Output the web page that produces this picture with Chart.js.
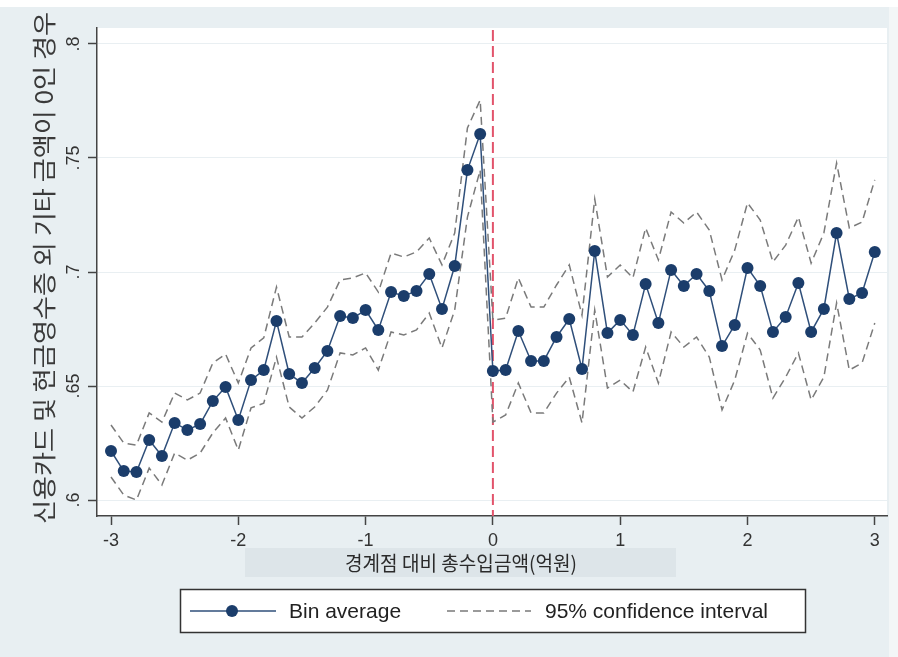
<!DOCTYPE html>
<html>
<head>
<meta charset="utf-8">
<title>RD bin plot</title>
<script src="https://cdn.jsdelivr.net/npm/chart.js@4.4.0/dist/chart.umd.min.js"></script>
<style>
    html, body { margin: 0; padding: 0; background: #e8eff2; }
    #wrap { width: 898px; height: 657px; position: relative; }
</style>
</head>
<body>
<div id="wrap"><canvas id="rdChart" width="898" height="657"></canvas></div>
<script>
// ==========================================
// DATA
// ==========================================
var binX = [
    -3.0, -2.9, -2.8, -2.7, -2.6, -2.5, -2.4, -2.3, -2.2, -2.1,
    -2.0, -1.9, -1.8, -1.7, -1.6, -1.5, -1.4, -1.3, -1.2, -1.1,
    -1.0, -0.9, -0.8, -0.7, -0.6, -0.5, -0.4, -0.3, -0.2, -0.1,
    0.0, 0.1, 0.2, 0.3, 0.4, 0.5, 0.6, 0.7, 0.8, 0.9,
    1.0, 1.1, 1.2, 1.3, 1.4, 1.5, 1.6, 1.7, 1.8, 1.9,
    2.0, 2.1, 2.2, 2.3, 2.4, 2.5, 2.6, 2.7, 2.8, 2.9, 3.0
];

var binAvg = [
    0.6215, 0.6127, 0.6123, 0.6263, 0.6193, 0.6338, 0.6307, 0.6333, 0.6434, 0.6496,
    0.6351, 0.6526, 0.6570, 0.6785, 0.6553, 0.6513, 0.6579, 0.6654, 0.6807, 0.6798,
    0.6833, 0.6746, 0.6912, 0.6895, 0.6917, 0.6991, 0.6838, 0.7026, 0.7447, 0.7605,
    0.6566, 0.6570, 0.6741, 0.6610, 0.6610, 0.6715, 0.6794, 0.6575, 0.7092, 0.6732,
    0.6790, 0.6724, 0.6947, 0.6776, 0.7009, 0.6939, 0.6991, 0.6917, 0.6675, 0.6768,
    0.7018, 0.6939, 0.6737, 0.6803, 0.6952, 0.6737, 0.6838, 0.7171, 0.6882, 0.6908, 0.7088
];

var ciUpper = [
    0.6329, 0.6250, 0.6241, 0.6382, 0.6342, 0.6469, 0.6439, 0.6469, 0.6601, 0.6640,
    0.6513, 0.6667, 0.6711, 0.6934, 0.6715, 0.6715, 0.6776, 0.6846, 0.6965, 0.6974,
    0.6996, 0.6912, 0.7083, 0.7066, 0.7088, 0.7149, 0.7031, 0.7171, 0.7632, 0.7754,
    0.6789, 0.6798, 0.6974, 0.6846, 0.6846, 0.6943, 0.7031, 0.6811, 0.7320, 0.6978,
    0.7031, 0.6974, 0.7193, 0.7053, 0.7263, 0.7215, 0.7263, 0.7184, 0.6965, 0.7096,
    0.7303, 0.7228, 0.7044, 0.7118, 0.7241, 0.7039, 0.7171, 0.7478, 0.7193, 0.7219, 0.7404
];

var ciLower = [
    0.6101, 0.6022, 0.6000, 0.6140, 0.6066, 0.6206, 0.6175, 0.6206, 0.6294, 0.6360,
    0.6219, 0.6404, 0.6425, 0.6627, 0.6408, 0.6360, 0.6408, 0.6482, 0.6645, 0.6636,
    0.6667, 0.6570, 0.6737, 0.6724, 0.6746, 0.6820, 0.6667, 0.6833, 0.7241, 0.7447,
    0.6342, 0.6373, 0.6513, 0.6382, 0.6382, 0.6469, 0.6539, 0.6338, 0.6833, 0.6491,
    0.6526, 0.6474, 0.6671, 0.6513, 0.6737, 0.6671, 0.6715, 0.6627, 0.6395, 0.6526,
    0.6732, 0.6658, 0.6447, 0.6539, 0.6645, 0.6439, 0.6539, 0.6864, 0.6570, 0.6601, 0.6776
];

var xTicks = [-3, -2, -1, 0, 1, 2, 3];
var xTickLabels = ['-3', '-2', '-1', '0', '1', '2', '3'];
var yTicks = [0.6, 0.65, 0.7, 0.75, 0.8];
var yTickLabels = ['.6', '.65', '.7', '.75', '.8'];
var cutoff = 0;

var xTitle = '경계점 대비 총수입금액(억원)';
var yTitle = '신용카드 및 현금영수증 외 기타 금액이 0인 경우';
var legendLabels = ['Bin average', '95% confidence interval'];

// ==========================================
// HELPERS
// ==========================================
function toPoints(xs, ys) {
    return xs.map(function(x, i) { return { x: x, y: ys[i] }; });
}

var LATIN = "'Liberation Sans', Arial, sans-serif";
var KOREAN = "'Noto Sans CJK KR', 'Noto Sans', sans-serif";
var NAVY = '#1b3d6b';
var NAVY_LINE = '#2f4f7a';
var CI_GRAY = '#7a7a7a';

// ==========================================
// STATA-LIKE FRAME (background, titles, legend, cutoff)
// ==========================================
var stataFrame = {
    id: 'stataFrame',
    beforeDraw: function(chart) {
        var ctx = chart.ctx;
        var a = chart.chartArea;
        ctx.save();
        ctx.fillStyle = '#e8eff2';
        ctx.fillRect(0, 0, chart.width, chart.height);
        ctx.fillStyle = '#ffffff';
        ctx.fillRect(0, 0, chart.width, 7);
        ctx.fillStyle = '#f3f6f7';
        ctx.fillRect(889, 7, chart.width - 889, chart.height - 7);
        // plot region
        ctx.fillStyle = '#ffffff';
        ctx.fillRect(a.left, a.top, a.right - a.left, a.bottom - a.top);
        // box behind x title
        ctx.fillStyle = '#dde5e9';
        ctx.fillRect(245, 548, 431, 29);
        ctx.restore();
    },
    beforeDatasetsDraw: function(chart) {
        var ctx = chart.ctx;
        var a = chart.chartArea;
        var px = chart.scales.x.getPixelForValue(cutoff);
        ctx.save();
        ctx.strokeStyle = '#e2536b';
        ctx.lineWidth = 2;
        ctx.setLineDash([11, 5]);
        ctx.beginPath();
        ctx.moveTo(px, a.top + 2);
        ctx.lineTo(px, a.bottom);
        ctx.stroke();
        ctx.restore();
    },
    afterDraw: function(chart) {
        var ctx = chart.ctx;
        var a = chart.chartArea;
        var ys = chart.scales.y;

        ctx.save();
        // y tick labels, rotated like Stata
        ctx.fillStyle = '#333333';
        ctx.font = '18px ' + LATIN;
        ctx.textAlign = 'center';
        ctx.textBaseline = 'middle';
        yTicks.forEach(function(v, i) {
            ctx.save();
            ctx.translate(74, ys.getPixelForValue(v));
            ctx.rotate(-Math.PI / 2);
            ctx.fillText(yTickLabels[i], 0, 0);
            ctx.restore();
        });

        // y title
        ctx.save();
        ctx.font = '24px ' + KOREAN;
        ctx.fillStyle = '#3a3a3a';
        ctx.translate(44, 268);
        ctx.rotate(-Math.PI / 2);
        var wy = ctx.measureText(yTitle).width;
        ctx.scale(512 / wy, 1);
        ctx.fillText(yTitle, 0, 0);
        ctx.restore();

        // x title
        ctx.save();
        ctx.font = '20px ' + KOREAN;
        ctx.fillStyle = '#2a2a2a';
        ctx.translate(461, 563);
        var wx = ctx.measureText(xTitle).width;
        ctx.scale(232 / wx, 1);
        ctx.fillText(xTitle, 0, 0);
        ctx.restore();

        // legend box
        ctx.fillStyle = '#ffffff';
        ctx.fillRect(180, 589, 625, 43);
        ctx.strokeStyle = '#333333';
        ctx.lineWidth = 1.5;
        ctx.strokeRect(180.5, 589.5, 625, 43);

        var ly = 611;
        var dsAvg = chart.data.datasets[0];
        var dsCi = chart.data.datasets[1];

        ctx.strokeStyle = dsAvg.borderColor;
        ctx.lineWidth = dsAvg.borderWidth;
        ctx.beginPath();
        ctx.moveTo(190, ly);
        ctx.lineTo(276, ly);
        ctx.stroke();
        ctx.fillStyle = dsAvg.pointBackgroundColor;
        ctx.beginPath();
        ctx.arc(232, ly, dsAvg.pointRadius, 0, Math.PI * 2);
        ctx.fill();

        ctx.strokeStyle = dsCi.borderColor;
        ctx.lineWidth = dsCi.borderWidth;
        ctx.setLineDash(dsCi.borderDash);
        ctx.beginPath();
        ctx.moveTo(447, ly);
        ctx.lineTo(531, ly);
        ctx.stroke();
        ctx.setLineDash([]);

        ctx.fillStyle = '#222222';
        ctx.font = '21px ' + LATIN;
        ctx.textAlign = 'left';
        ctx.textBaseline = 'middle';
        ctx.fillText(legendLabels[0], 289, ly + 1);
        ctx.fillText(legendLabels[1], 545, ly + 1);
        ctx.restore();
    }
};

// ==========================================
// CHART
// ==========================================
var ctx = document.getElementById('rdChart').getContext('2d');

new Chart(ctx, {
    type: 'line',
    data: {
        datasets: [{
            label: legendLabels[0],
            data: toPoints(binX, binAvg),
            borderColor: NAVY_LINE,
            borderWidth: 1.5,
            pointRadius: 6,
            pointBackgroundColor: NAVY,
            pointBorderColor: NAVY,
            pointBorderWidth: 0,
            tension: 0
        }, {
            label: legendLabels[1],
            data: toPoints(binX, ciUpper),
            borderColor: CI_GRAY,
            borderWidth: 1.5,
            borderDash: [8, 5],
            pointRadius: 0,
            tension: 0
        }, {
            label: legendLabels[1] + ' (lower)',
            data: toPoints(binX, ciLower),
            borderColor: CI_GRAY,
            borderWidth: 1.5,
            borderDash: [8, 5],
            pointRadius: 0,
            tension: 0
        }]
    },
    options: {
        responsive: false,
        animation: false,
        devicePixelRatio: 1,
        layout: { padding: { left: 85, right: 11, top: 28, bottom: 111 } },
        plugins: {
            legend: { display: false },
            tooltip: { enabled: false }
        },
        scales: {
            x: {
                type: 'linear',
                min: -3.11,
                max: 3.096,
                afterBuildTicks: function(scale) {
                    scale.ticks = xTicks.map(function(v) { return { value: v }; });
                },
                afterFit: function(scale) { scale.height = 30; },
                ticks: {
                    autoSkip: false,
                    maxRotation: 0,
                    padding: 5,
                    color: '#333333',
                    font: { family: LATIN, size: 18 },
                    callback: function(v) { return xTickLabels[xTicks.indexOf(v)]; }
                },
                grid: {
                    drawOnChartArea: false,
                    tickLength: 9,
                    tickColor: '#444444',
                    tickWidth: 1.5
                },
                border: { color: '#444444', width: 1.5 }
            },
            y: {
                type: 'linear',
                min: 0.593,
                max: 0.807,
                afterBuildTicks: function(scale) {
                    scale.ticks = yTicks.map(function(v) { return { value: v }; });
                },
                afterFit: function(scale) { scale.width = 12; },
                ticks: { display: false },
                grid: {
                    color: '#e9eff2',
                    lineWidth: 1,
                    tickLength: 9,
                    tickColor: '#444444',
                    tickWidth: 1.5
                },
                border: { color: '#444444', width: 1.5 }
            }
        }
    },
    plugins: [stataFrame]
});
</script>
</body>
</html>
